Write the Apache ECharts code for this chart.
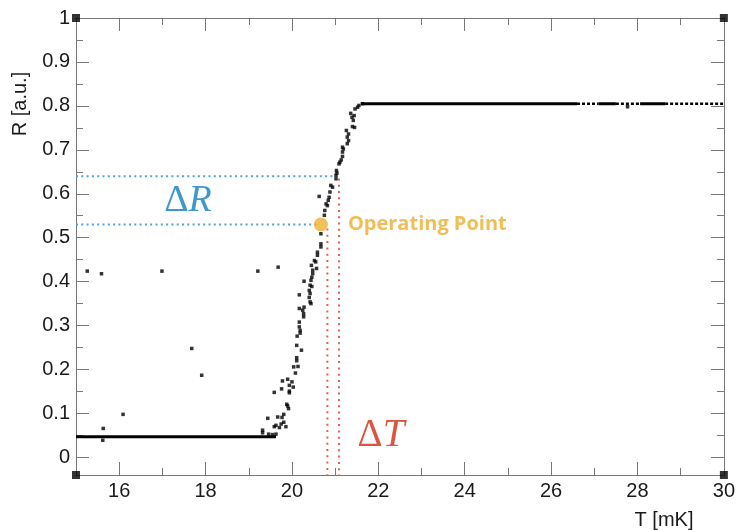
<!DOCTYPE html>
<html>
<head>
<meta charset="utf-8">
<title>R vs T transition</title>
<script src="https://cdn.jsdelivr.net/npm/echarts@6/dist/echarts.min.js"></script>
<style>
html, body { margin: 0; padding: 0; background: #fff; }
#chart { width: 738px; height: 530px; }
</style>
</head>
<body>
<div id="chart"></div>
<script>
// axis ranges
const tRange = [15, 30];
const rRange = [-0.04, 1];

// points on the transition, T [mK] / R [a.u.]
const transT = [19.32, 19.32, 19.46, 19.55, 19.63, 19.71, 19.59, 19.63, 19.75, 19.81, 19.86, 19.44, 19.67, 19.77, 19.81,
  19.88, 19.90, 19.92, 19.59, 19.76, 19.94, 19.94, 19.94, 20.03, 19.78, 19.90, 20.00, 20.04, 20.14, 20.08,
  20.11, 20.11, 20.22, 20.11, 20.12, 20.17, 20.17, 20.19, 20.19, 20.28, 20.17, 20.25, 20.27, 20.27, 20.17,
  20.40, 20.42, 20.40, 20.42, 20.44, 20.42, 20.46, 20.28, 20.44, 20.46, 20.48, 20.45, 20.55, 20.57, 20.48,
  20.52, 20.59, 20.59, 20.67, 20.67, 20.67, 20.75, 20.76, 20.79, 20.82, 20.84, 20.86, 20.88, 20.63, 20.90,
  20.94, 21.02, 21.02, 21.04, 21.03, 21.09, 21.11, 21.14, 21.17, 21.17, 21.19, 21.17, 21.28, 21.31, 21.28,
  21.31, 21.26, 21.40, 21.45, 21.42, 21.39, 21.44, 21.36, 21.46, 21.52, 21.55, 21.63];
const transR = [0.062, 0.056, 0.053, 0.052, 0.053, 0.068, 0.070, 0.073, 0.076, 0.080, 0.070, 0.089, 0.092, 0.091, 0.098,
  0.121, 0.117, 0.111, 0.148, 0.156, 0.151, 0.147, 0.164, 0.160, 0.174, 0.178, 0.172, 0.206, 0.207, 0.192,
  0.227, 0.220, 0.244, 0.255, 0.276, 0.308, 0.297, 0.289, 0.283, 0.342, 0.339, 0.335, 0.327, 0.320, 0.370,
  0.380, 0.373, 0.364, 0.354, 0.350, 0.392, 0.389, 0.401, 0.403, 0.410, 0.418, 0.437, 0.445, 0.430, 0.426,
  0.448, 0.467, 0.460, 0.479, 0.486, 0.509, 0.551, 0.562, 0.577, 0.573, 0.585, 0.592, 0.604, 0.594, 0.619,
  0.615, 0.634, 0.642, 0.647, 0.653, 0.668, 0.672, 0.677, 0.685, 0.695, 0.702, 0.706, 0.714, 0.721, 0.729,
  0.736, 0.744, 0.753, 0.751, 0.767, 0.774, 0.778, 0.783, 0.793, 0.797, 0.801, 0.805];

// stray points off the curve
const strayT = [15.26, 15.59, 16.99, 19.21, 19.68, 17.68, 17.91, 16.09, 15.63, 15.62, 27.77];
const strayR = [0.424, 0.418, 0.424, 0.424, 0.433, 0.248, 0.187, 0.098, 0.066, 0.039, 0.798];

// dense plateaus (drawn as thick lines)
const lowPlateauT = [15, 19.63];
const lowPlateauR = 0.047;
const highSolidT = [[21.6, 26.6], [27.1, 27.5], [28.06, 28.64]];
const highSparseT = [[26.6, 27.1], [27.5, 28.06], [28.64, 30]];
const highPlateauR = 0.805;

// operating point and the delta guides
const opT = 20.67;
const opR = 0.53;
const deltaRLevels = [0.53, 0.64];
const deltaREnds = [20.65, 20.95];
const deltaTLevels = [20.82, 21.09];
const deltaTTops = [0.521, 0.635];

const cornerT = [15, 15, 30, 30];
const cornerR = [-0.04, 1, 1, -0.04];

const zip = (a, b) => a.map((v, i) => [v, b[i]]);

const axisColor = '#777';
function axisBase(showLabel) {
    return {
        axisLine: { onZero: false, lineStyle: { color: axisColor, width: 1 } },
        axisTick: { inside: true, length: 13, lineStyle: { color: axisColor } },
        minorTick: { show: true, splitNumber: 2, length: 7, lineStyle: { color: axisColor } },
        splitLine: { show: false },
        axisLabel: { show: showLabel, color: '#1a1a1a', fontSize: 20, fontFamily: 'Liberation Sans', margin: 6 }
    };
}

const xBottom = Object.assign(axisBase(true), { type: 'value', position: 'bottom', min: tRange[0], max: tRange[1], splitNumber: 7 });
xBottom.axisLabel.formatter = v => (v < 15.5 ? '' : String(v));
const xTop = Object.assign(axisBase(false), { type: 'value', position: 'top', min: tRange[0], max: tRange[1], splitNumber: 7 });
const yLeft = Object.assign(axisBase(true), { type: 'value', position: 'left', min: rRange[0], max: rRange[1], splitNumber: 10 });
yLeft.axisLabel.formatter = v => (v < -0.001 ? '' : String(+v.toFixed(1)));
const yRight = Object.assign(axisBase(false), { type: 'value', position: 'right', min: rRange[0], max: rRange[1], splitNumber: 10 });

const series = [];

// low plateau
series.push({
    type: 'line', silent: true, showSymbol: false, z: 3,
    data: lowPlateauT.map(t => [t, lowPlateauR]),
    lineStyle: { color: '#000', width: 3 }
});
// high plateau solid parts
highSolidT.forEach(seg => series.push({
    type: 'line', silent: true, showSymbol: false, z: 3,
    data: seg.map(t => [t, highPlateauR]),
    lineStyle: { color: '#000', width: 3 }
}));
// high plateau sparse parts
highSparseT.forEach(seg => series.push({
    type: 'line', silent: true, showSymbol: false, z: 3,
    data: seg.map(t => [t, highPlateauR]),
    lineStyle: { color: '#000', width: 2.5, type: [3, 2] }
}));

// blue dotted guides
deltaRLevels.forEach((r, i) => series.push({
    type: 'line', silent: true, showSymbol: false, z: 2,
    data: [[tRange[0], r], [deltaREnds[i], r]],
    lineStyle: { color: '#4fa3d8', width: 2, type: [2, 3.3] }
}));
// red dotted guides
deltaTLevels.forEach((t, i) => series.push({
    type: 'line', silent: true, showSymbol: false, z: 2,
    data: [[t, deltaTTops[i]], [t, rRange[0]]],
    lineStyle: { color: '#e4604c', width: 2, type: [2, 4.3] }
}));

// measured points
series.push({
    type: 'scatter', symbol: 'rect', symbolSize: 3.5, z: 4,
    itemStyle: { color: '#000' },
    data: zip(transT, transR).concat(zip(strayT, strayR))
});

// operating point
series.push({
    type: 'scatter', symbol: 'circle', symbolSize: 14, z: 6,
    itemStyle: { color: '#f0b232' },
    label: {
        show: true, position: 'right', distance: 20,
        formatter: 'Operating Point',
        color: '#eeae2c', fontFamily: 'Open Sans', fontWeight: 700, fontSize: 20
    },
    data: [[opT, opR]]
});

// frame corner markers
series.push({
    type: 'scatter', symbol: 'rect', symbolSize: 8, clip: false, z: 7,
    itemStyle: { color: '#000' },
    data: zip(cornerT, cornerR)
});

const option = {
    animation: false,
    backgroundColor: '#fff',
    grid: { left: 76, right: 12, top: 18, bottom: 55 },
    xAxis: [xBottom, xTop],
    yAxis: [yLeft, yRight],
    series: series,
    graphic: [
        {
            type: 'text', x: 20, y: 104, rotation: Math.PI / 2,
            style: { text: 'R [a.u.]', fontSize: 20, fontFamily: 'Liberation Sans', fill: '#1a1a1a', align: 'center', verticalAlign: 'middle' }
        },
        {
            type: 'text', x: 664, y: 520,
            style: { text: 'T [mK]', fontSize: 20, fontFamily: 'Liberation Sans', fill: '#1a1a1a', align: 'center', verticalAlign: 'middle' }
        },
        {
            type: 'text', x: 188, y: 201,
            style: {
                text: '{d|Δ}{v|R}', align: 'center', verticalAlign: 'middle',
                rich: {
                    d: { fontSize: 38, fontFamily: 'Liberation Serif', fill: '#3f98cc' },
                    v: { fontSize: 38, fontFamily: 'Liberation Serif', fontStyle: 'italic', fill: '#3f98cc' }
                }
            }
        },
        {
            type: 'text', x: 381, y: 436,
            style: {
                text: '{d|Δ}{v|T}', align: 'center', verticalAlign: 'middle',
                rich: {
                    d: { fontSize: 39, fontFamily: 'Liberation Serif', fill: '#dc5540' },
                    v: { fontSize: 39, fontFamily: 'Liberation Serif', fontStyle: 'italic', fill: '#dc5540' }
                }
            }
        }
    ]
};

const chart = echarts.init(document.getElementById('chart'), null, { renderer: 'canvas' });
chart.setOption(option);
</script>
</body>
</html>
